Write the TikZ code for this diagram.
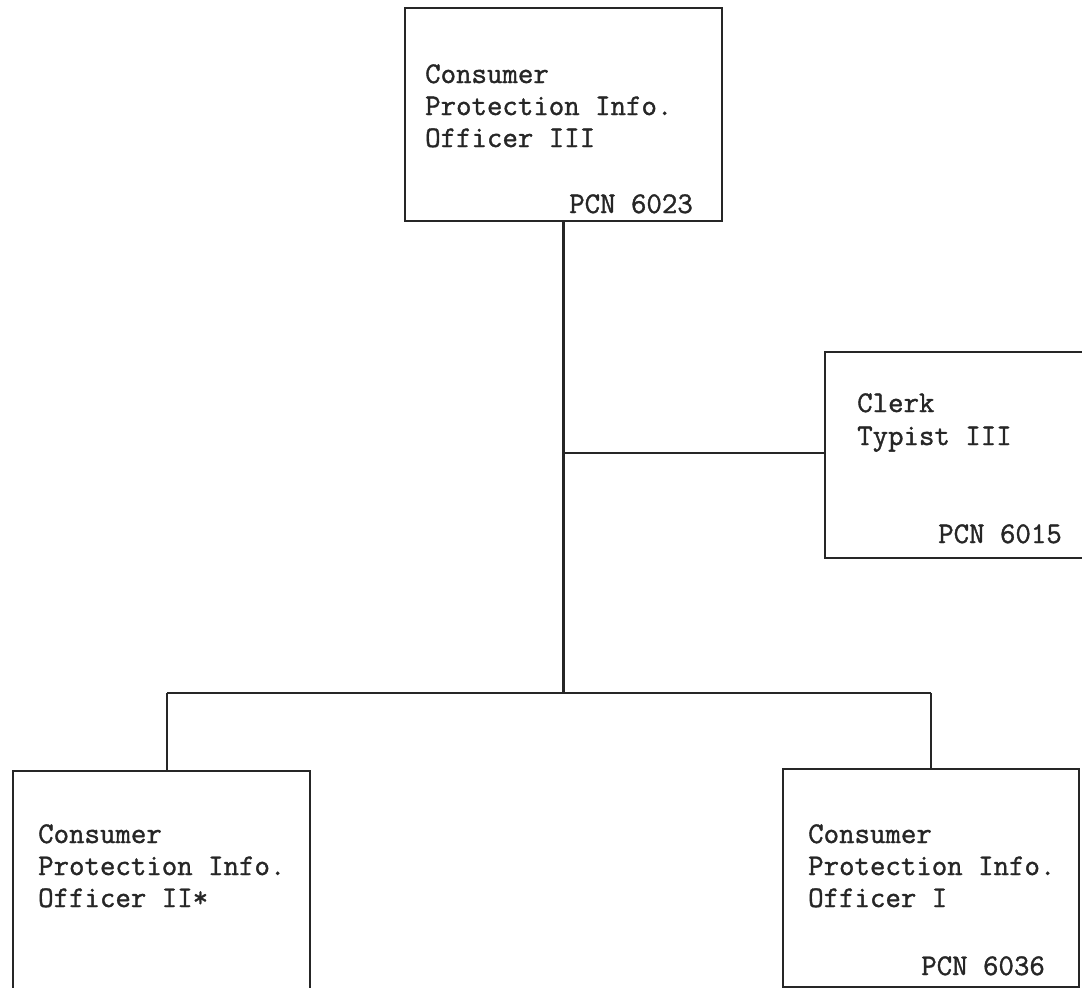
\documentclass[tikz,border=0pt]{standalone}
\usepackage{fontspec}
\newfontfamily\typewr{Latin Modern Mono}[FakeBold=1.2]
\begin{document}
\begin{tikzpicture}[x=1pt,y=-1pt,
  box/.style={draw=black!85, line width=2.2pt, rectangle, inner sep=0pt},
  txt/.style={font=\typewr\fontsize{30}{32}\selectfont, inner sep=0pt, text=black!85},
  conn/.style={draw=black!85, line width=2.4pt}]
\useasboundingbox[fill=white] (0,0) rectangle (1082,988);
% boxes
\node[box, minimum width=317pt, minimum height=213pt] (top) at (563.5,114.5) {};
\node[box, minimum width=270pt, minimum height=206pt] (clerk) at (960,455) {};
\node[box, minimum width=297pt, minimum height=240pt] (left) at (161.5,891) {};
\node[box, minimum width=296pt, minimum height=218pt] (right) at (931,878) {};
% texts
\node[txt, anchor=base west] (t1) at (425,83) {Consumer};
\node[txt, anchor=base west] (t2) at (425,115) {Protection Info.};
\node[txt, anchor=base west] (t3) at (425,147) {Officer III};
\node[txt, anchor=base east] (t4) at (693,213) {PCN 6023};
\node[txt, anchor=base west] (c1) at (857,412) {Clerk};
\node[txt, anchor=base west] (c2) at (857,445) {Typist III};
\node[txt, anchor=base east] (c3) at (1062,543) {PCN 6015};
\node[txt, anchor=base west] (l1) at (38,843) {Consumer};
\node[txt, anchor=base west] (l2) at (38,875) {Protection Info.};
\node[txt, anchor=base west] (l3) at (38,907) {Officer II*};
\node[txt, anchor=base west] (r1) at (808,843) {Consumer};
\node[txt, anchor=base west] (r2) at (808,875) {Protection Info.};
\node[txt, anchor=base west] (r3) at (808,907) {Officer I};
\node[txt, anchor=base east] (r4) at (1045,975) {PCN 6036};
% connectors
\coordinate (j1) at (563.5,453);
\coordinate (bus) at (563.5,693);
\coordinate (bl) at (167,693);
\coordinate (br) at (931,693);
\draw[conn] (top.south) -- (bus);
\draw[conn] (j1) -- (j1 -| clerk.west);
\draw[conn] (bl) -- (br);
\draw[conn] (bl) -- (bl |- left.north);
\draw[conn] (br) -- (right.north);
\end{tikzpicture}
\end{document}
